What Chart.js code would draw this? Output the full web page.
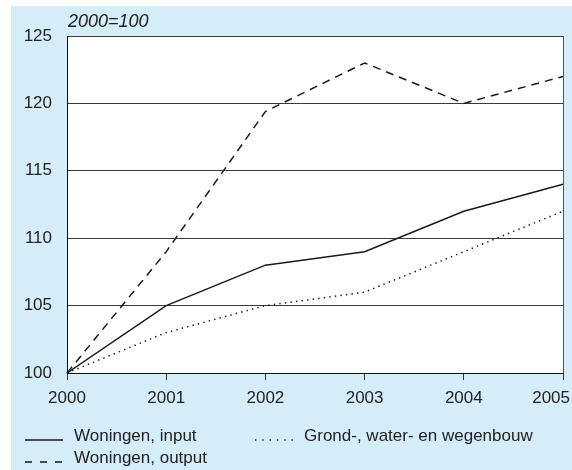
<!DOCTYPE html>
<html>
<head>
<meta charset="utf-8">
<script src="https://cdn.jsdelivr.net/npm/chart.js@4"></script>
<style>
  body { margin: 0; background: #fff; }
  #wrap { width: 572px; height: 470px; }
</style>
</head>
<body>
<div id="wrap"><canvas id="bouwPrijzen"></canvas></div>
<script>
/* prijsindices bouw, 2000=100 */
const jaren = ["2000", "2001", "2002", "2003", "2004", "2005"];
const woningenInput = [100, 105, 108, 109, 112, 114];
const woningenOutput = [100, 109, 119.4, 123, 120, 122];
const grondWaterWeg = [100, 103, 105, 106, 109, 112];
const yTicks = [100, 105, 110, 115, 120, 125];

const FONT = "'Liberation Sans', Arial, sans-serif";
const INK = "#222";

const achtergrond = {
  id: "achtergrond",
  beforeDraw(chart) {
    const ctx = chart.ctx;
    const a = chart.chartArea;
    ctx.save();
    ctx.fillStyle = "#d5ecf9";
    ctx.fillRect(11, 6, chart.width - 11, chart.height - 6);
    ctx.fillStyle = "#fff";
    ctx.fillRect(a.left, a.top, a.right - a.left, a.bottom - a.top);
    ctx.restore();

    // laatste jaartal binnen het beeld houden
    const items = chart.scales.x.getLabelItems();
    const last = items[items.length - 1];
    if (last) {
      last.options.textAlign = "right";
      last.options.translation[0] = 570;
    }
  },
  afterDraw(chart) {
    const ctx = chart.ctx;
    const a = chart.chartArea;
    ctx.save();
    // rechterrand
    ctx.strokeStyle = "#555";
    ctx.lineWidth = 1;
    ctx.beginPath();
    ctx.moveTo(Math.round(a.right) + 0.5, a.top);
    ctx.lineTo(Math.round(a.right) + 0.5, a.bottom);
    ctx.stroke();

    ctx.fillStyle = INK;
    ctx.font = "italic 18px " + FONT;
    ctx.textBaseline = "alphabetic";
    ctx.fillText("2000=100", a.left + 1, 27);

    // legenda
    const plek = [
      { x: 25, y: 441, dash: [] },
      { x: 25, y: 463, dash: [7, 8] },
      { x: 255, y: 441, dash: [1.4, 5.9] },
    ];
    ctx.font = "17px " + FONT;
    chart.data.datasets.forEach((ds, i) => {
      const p = plek[i];
      ctx.strokeStyle = ds.borderColor;
      ctx.lineWidth = 1.5;
      ctx.setLineDash(p.dash);
      ctx.beginPath();
      ctx.moveTo(p.x, p.y - 1);
      ctx.lineTo(p.x + 38, p.y - 1);
      ctx.stroke();
      ctx.setLineDash([]);
      ctx.fillStyle = INK;
      ctx.fillText(ds.label, p.x + 49, p.y);
    });
    ctx.restore();
  },
};

new Chart(document.getElementById("bouwPrijzen"), {
  type: "line",
  data: {
    labels: jaren,
    datasets: [
      {
        label: "Woningen, input",
        data: woningenInput,
        borderColor: "#1a1a1a",
        borderWidth: 1.5,
      },
      {
        label: "Woningen, output",
        data: woningenOutput,
        borderColor: "#1a1a1a",
        borderWidth: 1.5,
        borderDash: [8, 6],
      },
      {
        label: "Grond-, water- en wegenbouw",
        data: grondWaterWeg,
        borderColor: "#1a1a1a",
        borderWidth: 1.5,
        borderDash: [1.4, 4.2],
      },
    ],
  },
  options: {
    responsive: true,
    maintainAspectRatio: false,
    animation: false,
    elements: {
      point: { radius: 0 },
      line: { tension: 0 },
    },
    layout: {
      padding: { left: 11, right: 9, top: 36, bottom: 67 },
    },
    plugins: {
      legend: { display: false },
      tooltip: { enabled: false },
    },
    scales: {
      x: {
        offset: false,
        grid: {
          drawOnChartArea: false,
          drawTicks: true,
          tickLength: 7,
          color: "#333",
        },
        border: { color: "#111", width: 1 },
        ticks: {
          color: INK,
          font: { family: FONT, size: 17 },
          padding: 8,
          maxRotation: 0,
          autoSkip: false,
        },
        afterFit(s) {
          s.height = 30;
          s.paddingLeft = 0;
          s.paddingRight = 0;
        },
      },
      y: {
        min: 100,
        max: 125,
        afterBuildTicks(s) {
          s.ticks = yTicks.map((v) => ({ value: v }));
        },
        grid: {
          drawTicks: false,
          color: "#3a3a3a",
          lineWidth: 1,
        },
        border: { color: "#111", width: 1 },
        ticks: {
          color: INK,
          font: { family: FONT, size: 17 },
          padding: 15,
        },
        afterFit(s) {
          s.width = 56;
        },
      },
    },
  },
  plugins: [achtergrond],
});
</script>
</body>
</html>
